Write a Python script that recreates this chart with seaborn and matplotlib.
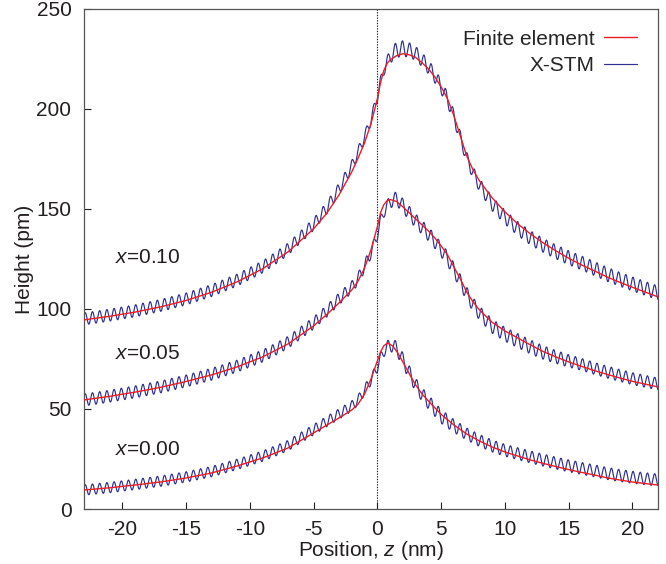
import numpy as np
import pandas as pd
import matplotlib
matplotlib.use("Agg")
import matplotlib.pyplot as plt
import seaborn as sns

# ================= data =================
# finite element curves (red), height in pm vs position z in nm
fe_z_010 = [-23, -21, -19, -17, -15, -13, -11, -9, -7, -5, -4, -3, -2, -1.5, -1, -0.5, 0, 0.25, 0.5,
            0.75, 1.0, 1.5, 2.0, 2.5, 3, 3.5, 4, 4.5, 5, 5.5, 6, 6.5, 7, 7.5, 8, 9, 10, 11, 12,
            13, 14, 15, 16, 17, 18, 19, 20, 21, 22]
fe_h_010 = [94.5, 96.3, 98.4, 101, 104.2, 108.3, 113.5, 120, 128.5, 140, 147.5, 157, 168.5, 175.5, 183,
            192.5, 205, 213, 219, 222.5, 224.5, 226.5, 227.5, 227, 225.7, 223, 220, 216, 211, 205,
            196.5, 186.5, 176.5, 169.5, 164, 155.5, 148.5, 142.5, 137.5, 133, 129, 125.3, 122, 119,
            116, 113.3, 110.8, 108.4, 106]

fe_z_005 = [-23, -21, -19, -17, -15, -13, -11, -9, -7, -5, -4, -3, -2, -1.5, -1, -0.5, 0, 0.25, 0.5,
            0.75, 1.0, 1.5, 2, 2.5, 3, 3.5, 4, 4.5, 5, 5.5, 6, 6.5, 7, 7.5, 8, 9, 10, 11, 12,
            13, 14, 15, 16, 17, 18, 19, 20, 21, 22]
fe_h_005 = [54.5, 56.3, 58.4, 60.8, 63.7, 67, 71, 76, 82.5, 91.5, 97, 103, 109.5, 114, 120.5,
            129.5, 141, 148, 152, 154, 154.7, 153.7, 151, 148, 145, 142, 139, 135.5, 131.5, 127,
            121, 115, 108.5, 103.5, 99.5, 93.3, 89, 85.5, 82, 78.7, 76, 73.5, 71.3, 69.2,
            67.3, 65.5, 63.8, 62.4, 61]

fe_z_000 = [-23, -21, -19, -17, -15, -13, -11, -9, -7, -5, -4, -3, -2, -1.5, -1, -0.5, 0, 0.25, 0.5,
            0.8, 1.2, 1.6, 2, 2.6, 3, 3.5, 4, 5, 6, 7, 8, 9, 10, 11, 12,
            13, 14, 15, 16, 17, 18, 19, 20, 21, 22]
fe_h_000 = [9.5, 10.6, 12, 13.5, 15.5, 18, 21.5, 25.5, 30.5, 38, 41.8, 45.5, 49.5, 52.5, 57.5,
            65, 74, 78.5, 81.5, 83, 81.5, 78, 73.5, 66.5, 62, 57.5, 54, 47.3, 42, 37.5, 34, 31,
            28.5, 26.5, 24.5, 22.8, 21.2, 19.7, 18.3, 17, 15.6, 14.5, 13.5, 12.7, 12]

# X-STM (blue): shift of the corrugation centre from the red curve and its half amplitude (pm)
stm_z = [-23, -8, -3, -1, 0, 0.5, 1.5, 3, 5, 7, 9, 12, 16, 22]
stm_off_010 = [0.5, 1, 3, 3, 1, 0, 3, 2, 0, -1, -3, -2, 1, 2]
stm_amp_010 = [3, 3, 3, 2.6, 2.6, 2.6, 4, 3.5, 3.5, 3, 3.5, 3.5, 3.5, 3.5]
stm_off_005 = [0, 0.5, 2, 1, -4, -4, 1.5, -1, -2, -1, -2, -1, 1, 1.5]
stm_amp_005 = [3, 3, 3, 3, 2.6, 2.6, 3.5, 3.5, 3.5, 3.5, 3.5, 3.5, 3, 3]
stm_off_000 = [0, 1, 2, 2, -3, -3, 1.5, 0, -1, 0, 0.5, 1.5, 2, 2.5]
stm_amp_000 = [2.6, 2.6, 2.6, 2.6, 2.6, 2.6, 3.5, 3.5, 3.5, 3, 3, 3, 3, 3]
lattice_nm = 0.565   # corrugation period seen in the scan
peak_at = 1.4        # position of one corrugation maximum

curve_labels = ['$x$=0.10', '$x$=0.05', '$x$=0.00']
label_z = [-20.6, -20.6, -20.6]
label_h = [125.5, 77.5, 29.5]

x_ticks = [-20, -15, -10, -5, 0, 5, 10, 15, 20]
y_ticks = [0, 50, 100, 150, 200, 250]

# ================= style =================
sns.set_style("ticks")
plt.rcParams['font.family'] = ['Liberation Sans', 'DejaVu Sans']
plt.rcParams['mathtext.fontset'] = 'custom'
plt.rcParams['mathtext.rm'] = 'Liberation Sans'
plt.rcParams['mathtext.it'] = 'Liberation Sans:italic'
plt.rcParams['font.size'] = 15

red = '#ec1c24'
blue = '#2e3192'
ink = '#231f20'

fig = plt.figure(figsize=(6.66, 5.64), dpi=100)
ax = fig.add_axes([0.126, 0.0975, 0.862, 0.887])

ax.axvline(0, color=ink, linestyle=(0, (1.2, 1.2)), linewidth=0.8, zorder=1)

curves = [(fe_z_010, fe_h_010, stm_off_010, stm_amp_010),
          (fe_z_005, fe_h_005, stm_off_005, stm_amp_005),
          (fe_z_000, fe_h_000, stm_off_000, stm_amp_000)]

for i, (fz, fh, off, amp) in enumerate(curves):
    # blue scan: corrugation riding on the finite element profile
    zs = np.arange(-23, 22.001, lattice_nm / 16)
    base = np.interp(zs, fz, fh) + np.interp(zs, stm_z, off)
    hs = base + np.interp(zs, stm_z, amp) * np.cos(2 * np.pi * (zs - peak_at) / lattice_nm)
    stm = pd.DataFrame({'z': zs, 'h': hs})
    sns.lineplot(data=stm, x='z', y='h', color=blue, linewidth=0.85, estimator=None, sort=False,
                 ax=ax, label='X-STM' if i == 0 else None, zorder=2)

    fe = pd.DataFrame({'z': fz, 'h': fh})
    sns.lineplot(data=fe, x='z', y='h', color=red, linewidth=1.0, estimator=None, sort=False,
                 ax=ax, label='Finite element' if i == 0 else None, zorder=3)

for txt, lz, lh in zip(curve_labels, label_z, label_h):
    ax.text(lz, lh, txt, fontsize=15, color=ink, va='center', ha='left')

ax.set_xlim(-23, 22)
ax.set_ylim(0, 250)
ax.set_xticks(x_ticks)
ax.set_xticklabels([str(t) for t in x_ticks])
ax.set_yticks(y_ticks)
ax.set_xlabel('Position, $z$ (nm)', fontsize=15, color=ink, labelpad=0)
ax.set_ylabel('Height (pm)', fontsize=15, color=ink, labelpad=2)
ax.tick_params(direction='in', length=5, width=0.8, colors=ink, labelsize=15)
ax.tick_params(axis='y', pad=9)
ax.tick_params(axis='x', pad=8)
for sp in ax.spines.values():
    sp.set_visible(True)
    sp.set_color('#555555')
    sp.set_linewidth(0.9)

# legend: text first, line after
handles, labels = ax.get_legend_handles_labels()
order = [labels.index('Finite element'), labels.index('X-STM')]
ax.legend([handles[j] for j in order], [labels[j] for j in order], loc='upper right',
          frameon=False, markerfirst=False, handlelength=1.6, handletextpad=0.45, fontsize=15,
          borderaxespad=0.6, labelspacing=0.35)

fig.savefig('out.png', dpi=100)
plt.close()
